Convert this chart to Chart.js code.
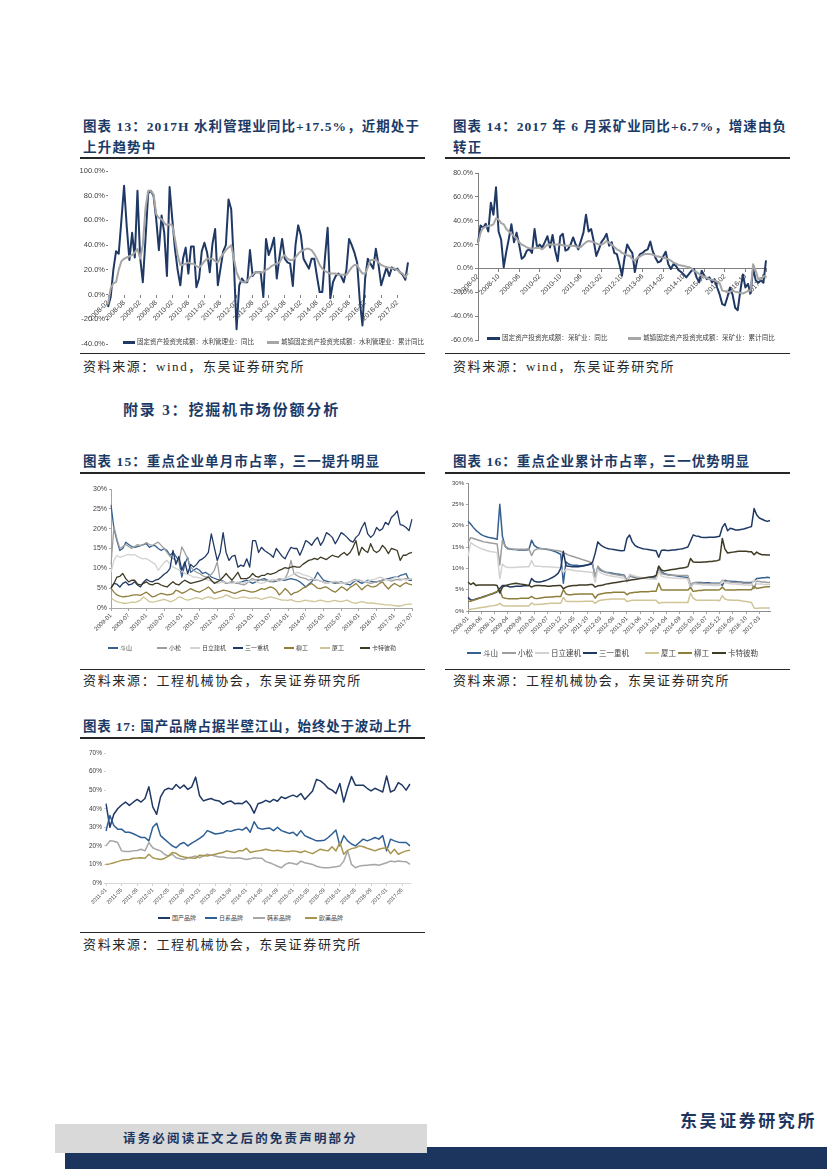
<!DOCTYPE html>
<html><head><meta charset="utf-8">
<script src="https://cdn.jsdelivr.net/npm/chart.js@4.4.0/dist/chart.umd.min.js"></script>
<style>
html,body{margin:0;padding:0;background:#fff;}
#page{position:relative;width:827px;height:1169px;overflow:hidden;background:#fff;}
.abs{position:absolute;white-space:nowrap;}
.title{font-family:"Liberation Serif","Noto Sans CJK SC",serif;font-weight:bold;font-size:13.5px;color:#1B3A66;letter-spacing:1.2px;line-height:18px;}
.src{font-family:"Liberation Serif","Noto Sans CJK SC",serif;font-size:13px;color:#262626;letter-spacing:1.7px;line-height:18px;}
.rule{position:absolute;background:#262626;}
canvas{position:absolute;}
.lgt{position:absolute;font-family:"Noto Sans CJK SC",sans-serif;color:#404040;white-space:nowrap;}
.lgl{position:absolute;}
</style></head>
<body><div id="page">

<div class="abs title fit" data-w="337" style="left:83px;top:118px;">图表 13：2017H 水利管理业同比+17.5%，近期处于</div>
<div class="abs title" style="left:83px;top:139px;">上升趋势中</div>
<div class="rule" style="left:80px;top:157px;width:345px;height:1.5px;"></div>
<div class="abs title fit" data-w="334" style="left:453px;top:118px;">图表 14：2017 年 6 月采矿业同比+6.7%，增速由负</div>
<div class="abs title" style="left:453px;top:139px;">转正</div>
<div class="rule" style="left:445px;top:157px;width:345px;height:1.5px;"></div>

<canvas id="c13" width="345" height="190" style="left:80px;top:160px;"></canvas>
<canvas id="c14" width="345" height="185" style="left:445px;top:165px;"></canvas>

<div class="rule" style="left:80px;top:353px;width:345px;height:1px;"></div>
<div class="rule" style="left:445px;top:353px;width:345px;height:1px;"></div>
<div class="abs src fit" data-w="222" style="left:83px;top:358px;">资料来源：wind，东吴证券研究所</div>
<div class="abs src fit" data-w="222" style="left:453px;top:358px;">资料来源：wind，东吴证券研究所</div>

<div class="abs title fit" data-w="217" style="left:123px;top:400px;font-size:15px;line-height:20px;">附录 3：挖掘机市场份额分析</div>

<div class="abs title fit" data-w="297" style="left:83px;top:453px;">图表 15：重点企业单月市占率，三一提升明显</div>
<div class="rule" style="left:80px;top:472px;width:345px;height:1.5px;"></div>
<div class="abs title fit" data-w="297" style="left:453px;top:453px;">图表 16：重点企业累计市占率，三一优势明显</div>
<div class="rule" style="left:445px;top:472px;width:345px;height:1.5px;"></div>

<canvas id="c15" width="345" height="160" style="left:80px;top:478px;"></canvas>
<canvas id="c16" width="345" height="170" style="left:445px;top:474px;"></canvas>

<div class="rule" style="left:80px;top:669px;width:345px;height:1px;"></div>
<div class="rule" style="left:445px;top:669px;width:345px;height:1px;"></div>
<div class="abs src fit" data-w="279" style="left:83px;top:672px;">资料来源：工程机械协会，东吴证券研究所</div>
<div class="abs src fit" data-w="277" style="left:453px;top:672px;">资料来源：工程机械协会，东吴证券研究所</div>

<div class="abs title fit" data-w="329" style="left:83px;top:718px;">图表 17: 国产品牌占据半壁江山，始终处于波动上升</div>
<div class="rule" style="left:80px;top:737px;width:345px;height:1.5px;"></div>
<canvas id="c17" width="345" height="170" style="left:80px;top:742px;"></canvas>
<div class="rule" style="left:80px;top:932px;width:345px;height:1px;"></div>
<div class="abs src fit" data-w="279" style="left:83px;top:936px;">资料来源：工程机械协会，东吴证券研究所</div>

<div class="abs title fit" data-w="137" style="left:680px;top:1110px;font-size:17px;line-height:24px;color:#1B355F;">东吴证券研究所</div>
<div style="position:absolute;left:65px;top:1147px;width:762px;height:22px;background:#1B355F;"></div>
<div style="position:absolute;left:55px;top:1124px;width:372px;height:29px;background:#D9D9D9;"></div>
<div class="abs title fit" data-w="235" style="left:123px;top:1130px;font-size:12.5px;color:#1B355F;">请务必阅读正文之后的免责声明部分</div>

</div>
<script>
// ---------- categories ----------
function monthLabels(y0, m0, n) { const out = []; let y = y0, m = m0; for (let i = 0; i < n; i++) { out.push(y + '-' + String(m).padStart(2, '0')); m++; if (m > 12) { m = 1; y++; } } return out; }
const cat13 = monthLabels(2008, 2, 113);
const cat14 = monthLabels(2008, 2, 113);
const cat15 = monthLabels(2009, 1, 103);
const cat16 = monthLabels(2008, 1, 115);
const cat17 = monthLabels(2011, 1, 79);

// ---------- chart 13: 水利管理业 ----------
const name13a = '固定资产投资完成额：水利管理业：同比';
const name13b = '城镇固定资产投资完成额：水利管理业：累计同比';
const water_yoy = [-10,-2,20,35,33,60,88,55,28,50, 30,84,30,10,45,82,84,80,61,36, 64,50,15,87,61,37,20,7.5,29,38, 17,39,39,6,13,35,42,34,18,41, 53,7.5,21,35,40,77,69,25,-28,7.5, 13,10,10,36,15,18,18,18,-2,45, 32,38,46,13,30,45,29,26,25,7, 40,56,48,29,25,21,29,29,15,2, 2,30,54,-3,10,15,17,15,10,20, 45,40,34,26,-5,-25,13,29,25,21, 37,24,7.5,15,22,15,22,20,21,18, 16,12,26];
const water_cum = [-8,5,9,10,20,27,29,30,31,32, 34,37,29,40,70,84,84,81,65,62, 61,58,56,57,56,45,32,24,24,25, 26,25,25,23,22,24,27,29,29,29, 27,26,30,33,36,38,40,29,18,13, 10,10,11,14,16,18,18,18,18,20, 21,23,24,25,26,30,32,29,28,28, 30,33,35,36,37,37,36,33,29,24, 21,19,18,17,17,17,16,16,16,16, 19,22,24,24,20,17,17,22,28,28, 28,26,24,23,22,22,21,21,20,18, 17,14,17.5];

// ---------- chart 14: 采矿业 ----------
const name14a = '固定资产投资完成额：采矿业：同比';
const name14b = '城镇固定资产投资完成额：采矿业：累计同比';
const mining_yoy = [21.7,36,34,37.5,31,55,45,68,31,24, 1,14,25,37,22,30,20,8,10,15, 16,13,33,17.5,20,17.5,22,27,17.5,28, 15,6,27,29,15,16,20,26,20,16, 23,30,45,31,33,23,10.5,16,22,25, 29,19,22,13,12,3.6,-6,9,20,16, 13,-3,8,12,13,15,16,22.5,14,9, 5,6,10,14,3.6,-0.5,3.6,2,-1.4,-3, -5,-7.5,-4.7,-2,-0.5,-7.5,-11.7,-2,-6,-9, -7.5,-11.7,-9,-16,-22,-30,-31,-24,-16,-22, -33,-35,-19,-5,-16,-13,-21,0,-10,-12, -10,-12,6.7];
const mining_cum = [21,30,34,35,35.5,36,37,42,41,38, 37,33,31,29,27,25,22,20,19,17.5, 17,16.7,17,17.5,17,16,18,20,20,20, 20,20,20,19.5,19,19,19,19,18.5,17.5, 18,20,22,23,22.5,22,21,20,20,21, 23,21.5,20,18,16,15,13,12,11,10.5, 8,6.4,9,10,11.4,12,12,12,11.5,10.5, 10,9.5,9,8.5,7.8,6.5,5,4,3,2.5, 2,1.5,1,0,-2,-3,-4.7,-6,-7,-8, -9,-9.5,-10,-11,-12.5,-18.6,-19,-20,-19.5,-18.6, -19.5,-20,-20.5,-21,-20,-19,-18.6,3.6,-2,-9, -9,-7,-6];

// ---------- chart 15: 单月市占率 ----------
const names15 = ['斗山', '小松', '日立建机', '三一重机', '柳工', '厦工', '卡特彼勒'];
const m_doosan = [26,20,17,14.5,15,16.6,16,15.5,15.3,15.5, 15.7,16,16.2,15.3,15.7,15.7,15,14.5,15,14.5, 13.3,14,13,12,7.8,11,12.8,9,9.5,10, 9.5,8.7,9,8.5,7.8,7.5,7.2,7,6.8,6.2, 6.4,6.6,6.4,6.2,6.5,6.8,7,6.6,6.2,6.6, 7,7.2,7.4,7,6.8,6.6,6.8,7,7,7, 7.2,7.4,7.2,7,6.6,6,5.3,6,6.6,7.5, 9,8,7,6.8,6.6,6.4,6.2,6.4,6.6,6.2, 6,5.8,6.4,7,6.6,6.2,6.6,7,6.8,6.6, 6.6,6.8,7,7.2,7.4,7.6,7.8,7.8,8.2,8.4, 8.7,7,7];
const m_komatsu = [11,20.5,17.5,15,15.5,16,15.5,15,15.5,16, 15.7,16,16.5,16,15.8,16.2,16.6,15.8,15,14, 13,12.5,12,11.5,15.4,14,12.4,10.3,9.5,9, 8.7,8.2,7.8,8,8.5,9.5,11.6,7,6.6,6.2, 6.4,6.6,6.4,6.2,6,5.8,6.2,7,7.4,7, 7.2,7,7,6.8,6.6,6.8,7,7.4,7.2,7.4, 9,12,8.7,8.2,7.8,7.6,7.4,7,7.2,7, 7,6.8,6.6,6.2,6.4,6.6,6.4,6.2,6.4,6.2, 6.4,6.6,7,7.2,7,6.8,6.6,6.4,6.2,6.4, 6.6,6.8,7,7.2,7,6.8,7,7.2,7,7.2, 7.4,7.2,7.4];
const m_hitachi = [9,12,13.3,12.8,13,13.3,13.5,13.3,13.5,13, 12.6,12.4,12.5,12,11.5,11,9.5,10.5,11.5,12, 11,10.3,10,9.5,9.5,8.7,8.5,8.2,7.8,7.8, 7.6,7.4,7.2,7,6.8,6.6,6.2,6.4,6.6,6.5, 6.3,6.2,6.4,6.6,6.5,6.3,6.6,6.8,7,6.8, 6.4,6.2,6.4,6.8,7,7.2,7,6.8,7,7.4, 7.8,8.2,8.6,9,8.8,8.4,8.2,8,7.6,7.2, 7,6.8,6.4,6.2,6.4,6.6,6.8,6.6,6.4,6.2, 6.4,6.6,6.8,7,7.2,6.8,6.6,6.8,7,7.2, 7.4,7.8,7.6,7.2,7,7.2,7.6,7.8,7.4,7.2, 7,7.2,7.4];
const m_sany = [5,6.2,6,5.3,6.2,6.6,5.8,6,6.6,5.8, 5.3,6.5,7.2,6.8,6.6,7,7.2,7.8,8.5,9, 10,14.5,11,13,9.5,11.6,8.7,11,10.3,11, 12,12.4,13,14,18.7,15.3,12,14,19,14, 12,13,13.3,10.3,10.8,10.5,12.4,10.3,17,17, 14,15.3,14.5,14,13.5,12.8,15,14,13,12.4, 14,15.3,15,15,13.3,15,17,16.5,15.8,17, 17.8,15.8,17,19,18.5,17.8,16.2,17.5,19,18.5, 17.8,17,16.6,17.8,18.5,20.3,21.6,18.7,17.8,18.5, 20.3,19.5,20,21.6,21,22.8,23.5,24.5,21,20.8, 20.3,19.5,22.4];
const m_liugong = [5,4,3.3,3,2.8,2.9,3,3.2,3.3,3.3, 3.2,3.6,4,3.4,2.8,3,3.4,3.7,3.5,3.3, 3.4,3.6,4.5,4.2,3.7,4,4.4,4.9,4.5,4.2, 4,4.4,4.8,5.3,4.6,3.7,4,4.2,4.5,4.4, 4.2,3.9,3.7,4,4.3,4.5,4.3,4.1,4,4.2, 4.5,4.9,4.7,5,5.3,5.1,4.5,3.3,4,4.9, 4.2,3.3,3.8,4,4.4,5,5.3,5.8,6.2,5.6, 5,4.9,5.2,5.3,4.8,4.3,4,4.6,5.3,5, 4.4,5.2,5.6,6.2,5.4,4.6,5.3,5.8,5.4,5.3, 5.6,6.2,6.6,5.6,4.8,5.6,6.2,5.8,5.4,6, 6.4,6,5.8];
const m_xiagong = [2.5,2,1.6,1.4,1.2,1.2,1.3,1.5,1.4,1.6, 2,2.8,2.2,1.6,1.5,1.6,1.8,2,2.2,1.9, 1.6,1.8,2.2,2.8,2.6,2.2,2,2.2,2.4,2.6, 2.4,2.2,2.6,2.8,2.6,2.3,2.4,2.6,2.8,3.3, 3,2.6,2.4,2.5,2.7,2.8,2.6,2.4,2.5,2.6, 2.4,2.2,2.4,2.6,2.8,2.6,2.4,2.2,2,2, 1.9,2.1,1.8,1.6,1.6,1.8,2,1.8,1.7,1.6, 1.8,2,1.8,1.6,1.6,1.8,1.9,1.7,1.6,1.8, 2,1.6,1.3,1.2,1.4,1.6,1.4,1.2,1.3,1.2, 1.1,1,0.9,0.8,0.8,0.7,0.6,0.5,0.5,0.7, 0.9,1,1];
const m_cat = [5,6.2,7.8,8,8.7,7.4,6.6,7,7,6, 5.8,6.2,6.6,6,5.8,6.2,6.2,5.8,5.5,5.3, 6,6.6,6,5.8,6.5,7,6.6,6.2,6.4,6.6, 6.8,7,7.4,7.8,7,6.2,6.6,7,7.8,8.7, 7.8,7,8,9,7.4,7.4,7.4,7.8,8.7,8, 7.8,8.2,8.2,8.7,8.5,8.7,9,9.5,9.8,10.2, 10,10.3,10.5,10.3,10.3,11,11.5,12,12.2,12.5, 12.2,12.8,12.5,12.2,12.8,13.3,13,12.8,13.5,14, 13.3,14,15.3,17,13.3,15.3,14.5,14,16.2,14.5, 14,14.5,15.8,15,13.7,15,14.8,14.5,12,13.3, 13.3,13.8,14];

// ---------- chart 16: 累计市占率 ----------
const names16 = ['斗山', '小松', '日立建机', '三一重机', '厦工', '柳工', '卡特彼勒'];
const c_doosan = [21.0,20.4,19.6,18.9,18.4,17.9,17.6,17.4,17.2,17.1,17.0,16.8, 25.0,17.5,15.2,14.6,14.5,14.4,14.4,14.3,14.3,14.3,14.3,14.4, 16.6,15.4,14.9,14.7,14.6,14.5,14.4,14.3,14.1,13.9,13.6,13.3, 6.5,11.5,11.0,10.8,10.7,10.7,10.6,10.6,10.7,10.8,10.9,11.0, 8.0,10.0,9.6,9.3,9.1,9.0,8.9,8.8,8.7,8.6,8.5,8.4, 7.0,8.2,8.0,7.9,7.8,7.8,7.8,7.8,7.8,7.9,7.9,8.0, 10.5,9.2,8.8,8.6,8.5,8.4,8.3,8.2,8.1,8.0,7.9,7.8, 5.5,6.5,6.7,6.7,6.7,6.6,6.6,6.6,6.5,6.5,6.5,6.5, 6.0,7.2,7.0,7.0,6.9,6.9,6.8,6.8,6.7,6.7,6.7,6.7, 7.0,7.6,7.7,7.8,7.8,7.9,7.8];
const c_komatsu = [16.0,17.2,17.0,16.8,16.6,16.4,16.2,16.1,16.0,15.9,15.8,15.7, 10.8,16.6,15.2,14.8,14.6,14.5,14.5,14.5,14.5,14.5,14.5,14.6, 13.0,14.2,14.5,14.6,14.6,14.6,14.5,14.4,14.3,14.2,14.1,14.0, 13.6,13.4,13.1,12.9,12.7,12.5,12.3,12.1,11.9,11.7,11.5,11.3, 8.0,10.5,9.8,9.4,9.1,8.9,8.7,8.6,8.5,8.4,8.3,8.2, 7.2,8.3,8.1,8.0,7.9,7.8,7.7,7.7,7.6,7.6,7.6,7.6, 10.0,8.8,8.6,8.5,8.4,8.4,8.4,8.3,8.3,8.3,8.3,8.3, 6.2,6.6,6.6,6.5,6.5,6.5,6.4,6.4,6.4,6.4,6.4,6.4, 7.2,7.0,6.9,6.8,6.7,6.7,6.6,6.6,6.5,6.5,6.5,6.5, 5.2,7.0,6.9,6.8,6.8,6.7,6.7];
const c_hitachi = [12.8,16.0,15.6,15.2,14.9,14.6,14.4,14.2,14.0,13.9,13.8,13.7, 7.6,11.0,10.4,10.2,10.2,10.2,10.2,10.3,10.3,10.3,10.4,10.4, 11.8,10.6,10.5,10.5,10.4,10.4,10.4,10.3,10.3,10.2,10.2,10.2, 9.0,9.8,9.7,9.6,9.5,9.4,9.4,9.3,9.2,9.2,9.1,9.0, 6.7,9.8,9.0,8.7,8.5,8.3,8.2,8.1,8.0,7.9,7.8,7.7, 6.8,8.6,8.4,8.2,8.0,7.9,7.8,7.7,7.6,7.5,7.5,7.4, 9.2,8.2,8.0,7.9,7.8,7.8,7.7,7.7,7.6,7.6,7.6,7.5, 5.5,6.3,6.3,6.2,6.2,6.1,6.1,6.1,6.0,6.0,6.0,6.0, 7.0,6.6,6.5,6.4,6.3,6.3,6.2,6.2,6.1,6.1,6.1,6.0, 7.4,6.4,6.3,6.3,6.2,6.2,6.2];
const c_sany = [3.2,2.6,2.6,2.8,3.0,3.2,3.4,3.6,3.8,4.0,4.2,4.5, 5.3,6.0,6.0,5.8,5.6,5.7,5.8,5.8,5.8,5.9,5.9,6.0, 7.6,7.0,6.8,6.8,6.9,7.1,7.3,7.6,7.9,8.3,8.8,10.0, 14.0,10.6,10.5,10.4,10.4,10.4,10.4,10.5,10.6,10.8,11.0,11.4, 13.5,16.2,15.5,15.1,14.8,14.6,14.5,14.4,14.3,14.2,14.1,14.2, 17.0,17.8,16.2,15.4,15.0,14.8,14.6,14.5,14.4,14.3,14.2,14.1, 12.6,14.2,14.3,14.2,14.2,14.3,14.3,14.4,14.5,14.6,14.8,15.0, 16.4,17.8,17.6,17.5,17.3,17.2,17.2,17.3,17.3,17.3,17.4,17.5, 19.6,20.5,18.8,19.4,19.2,19.0,19.0,19.1,19.2,19.4,19.6,19.8, 24.0,22.5,21.8,21.5,21.2,21.0,21.2];
const c_xiagong = [0.3,0.4,0.5,0.6,0.7,0.8,0.9,1.0,1.1,1.2,1.3,1.4, 1.8,1.3,1.2,1.2,1.2,1.2,1.2,1.2,1.2,1.2,1.2,1.2, 1.9,1.5,1.5,1.6,1.6,1.7,1.7,1.8,1.8,1.8,1.8,1.8, 3.2,2.3,2.2,2.2,2.2,2.2,2.2,2.2,2.3,2.3,2.3,2.3, 1.8,2.3,2.5,2.6,2.7,2.7,2.8,2.8,2.8,2.8,2.8,2.8, 2.2,2.4,2.5,2.5,2.5,2.5,2.5,2.5,2.5,2.5,2.5,2.5, 1.8,2.0,2.0,2.0,2.0,2.0,2.0,2.0,2.0,2.0,2.0,2.0, 4.2,3.0,2.6,2.5,2.5,2.5,2.5,2.5,2.5,2.5,2.5,2.4, 3.6,2.8,2.6,2.6,2.5,2.5,2.5,2.4,2.3,2.2,2.1,2.0, 0.7,0.6,0.7,0.7,0.7,0.7,0.7];
const c_liugong = [2.2,2.3,2.5,2.7,2.9,3.1,3.3,3.5,3.8,4.0,4.3,4.6, 5.0,3.2,3.0,2.9,2.9,2.9,2.9,2.9,3.0,3.0,3.0,3.0, 3.4,3.0,2.9,3.0,3.1,3.2,3.2,3.3,3.3,3.4,3.4,3.4, 5.0,4.0,3.8,3.8,3.9,3.9,4.0,4.0,4.0,4.0,4.0,4.0, 3.0,3.8,4.0,4.1,4.2,4.3,4.3,4.4,4.4,4.4,4.4,4.4, 3.8,4.2,4.3,4.4,4.4,4.5,4.5,4.5,4.5,4.6,4.6,4.6, 6.5,5.0,4.9,4.9,4.9,4.9,4.9,4.9,4.9,4.9,4.9,4.9, 5.5,4.6,4.7,4.8,4.8,4.9,4.9,4.9,4.9,4.9,4.9,5.0, 5.6,5.0,4.9,4.9,4.9,4.9,5.0,5.0,5.0,5.0,5.0,5.0, 5.8,5.3,5.4,5.5,5.6,5.7,5.7];
const c_cat = [6.8,6.2,6.6,6.0,6.1,6.1,6.1,6.1,6.1,6.1,6.1,6.0, 4.2,5.6,5.9,6.1,6.3,6.4,6.5,6.4,6.3,6.2,6.1,6.0, 5.6,5.9,6.0,6.0,5.9,5.9,5.8,5.8,5.9,5.9,6.0,6.0, 5.2,5.6,5.8,5.9,6.0,6.0,6.1,6.1,6.1,6.1,6.2,6.2, 5.6,5.9,6.0,6.1,6.3,6.4,6.5,6.6,6.7,6.8,6.9,7.0, 7.1,7.2,7.3,7.4,7.5,7.6,7.7,7.8,7.9,8.0,8.1,8.3, 10.5,9.6,9.4,9.5,9.6,9.7,9.8,9.9,10.0,10.1,10.2,10.4, 12.3,11.5,11.4,11.4,11.4,11.5,11.5,11.6,11.6,11.7,11.8,12.0, 17.0,14.5,13.6,13.7,13.8,13.9,14.0,14.0,14.0,14.0,13.9,13.9, 13.2,13.8,13.4,13.2,13.2,13.1,13.1];

// ---------- chart 17: 品牌份额 ----------
const names17 = ['国产品牌', '日系品牌', '韩系品牌', '欧美品牌'];
const b_domestic = [42.7,30,37,40,42,43.6,41.8,43.5,45,43.6, 45.5,51.8,41,37,46.4,50,51,50.4,53,51, 52.7,50.4,51.8,57,47,44.2,45,45.5,44.5,44.2, 42.4,43.6,44.2,42.7,43,42.7,44.2,41.8,37.6,42.7, 43.3,44.5,43.6,45,44,46.4,45.5,46.5,47.3,46.4, 48.2,45,47.3,49.6,55.8,55,53.3,51,50,48.2, 53.6,43.6,51,57.3,52.7,52.7,52.7,51,49.6,51, 50,49,57.6,49,50,54,52.7,50,53.3];
const b_japan = [28,36.4,31,29,29,27.3,27.3,26.5,25.5,24.5, 24.5,22.7,30,32.2,25.5,23.6,21.8,20,19,21, 21.8,20,21.5,22.7,24,25.5,28.2,27.3,26.4,26.7, 27,28.2,27.8,28.5,29,28.5,30,27.3,33,29.6, 29,29.3,29.6,28.2,30,28.2,27.5,26.7,27.3,25.5, 28.2,25.5,24.5,23.6,22.7,22.8,23,24.5,26.4,28.5, 20,25.5,22.7,21,20,21.8,23.6,22.7,23.5,24.5, 23.6,25.5,17.3,23.6,22.7,22,21.8,21.8,20];
const b_korea = [20,22.7,22.5,21.8,17.3,17,17,17.3,17.5,18.2, 17.3,21.8,19,18,17.3,15.5,14.5,15.5,13.6,13, 12.7,13.6,14,14.5,13.6,14.5,15.5,15,14.5,14, 14,13.6,13.5,13.3,13.6,13.2,12.7,13,13.6,13.3, 13.3,11.5,10.9,10,9,8.2,10,10.9,10.5,10, 11.8,10.9,10.5,10,9,8.5,8.2,8.2,8.5,8.8, 9.1,11.8,17.3,10,8.2,9.1,9.4,9.6,9.8,10, 9.6,10.2,10.9,11.8,11.5,11.8,11.6,11.5,10];
const b_euus = [10,10.3,10.9,11.5,12.2,12.5,12.7,13.3,13.4,13.6, 13.3,15.5,13.6,13,12.7,13.2,14.5,16.4,16,14.5, 14,13.6,13.5,13.3,15,14.8,14.5,15,15.5,16, 16.4,17.3,16.8,16.4,17.3,17.3,18.7,16.4,17,17.3, 17.6,18.2,17.6,17.3,17.6,17.3,16.9,17,17.3,17, 16.4,17.3,16.5,15.8,17,18.2,17.6,17.3,19.5,17.3, 21.8,15.5,17.6,18.5,19,20,19.5,18.7,18,17.3, 18.2,18.7,19,15.8,18.2,15.5,16.5,17.3,17.6];

// ---------- colours ----------
const NAVY = '#1F3864', GREY = '#A6A6A6';
const col15 = ['#35608F', '#9E9E9E', '#D2D2D2', '#1F3864', '#8E7E3C', '#CFC597', '#3F3B24'];
const col16 = ['#35608F', '#9E9E9E', '#D2D2D2', '#1F3864', '#CFC597', '#8E7E3C', '#3F3B24'];
const col17 = ['#1F3864', '#2E5E94', '#A6A6A6', '#A8964E'];

function drawChart(id, c) {
  const datasets = c.series.map((s, i) => ({
    label: s.name, data: s.data, borderColor: s.color, backgroundColor: s.color,
    borderWidth: c.lw, pointRadius: 0, tension: 0, fill: false, order: -i,
    borderJoinStyle: 'round'
  }));
  return new Chart(document.getElementById(id), {
    type: 'line',
    data: { labels: c.labels, datasets },
    options: {
      responsive: false, animation: false,
      layout: { padding: { left: 0, top: c.pad[0], right: c.pad[1], bottom: c.pad[2] } },
      plugins: { legend: { display: false }, tooltip: { enabled: false } },
      scales: {
        x: {
          type: 'category', offset: false,
          position: c.xAtZero ? { y: 0 } : 'bottom',
          afterBuildTicks: s => { s.ticks = s.ticks.filter(t => t.value % c.every === 0); },
          afterFit: s => { s.height = c.xh; s.paddingLeft = 0; s.paddingRight = 0; s.paddingTop = 0; s.paddingBottom = 0; },
          ticks: { autoSkip: false, minRotation: 45, maxRotation: 45, padding: 1, color: '#404040',
                   font: { family: 'Liberation Sans', size: c.xFont } },
          grid: { display: true, drawOnChartArea: false, drawTicks: true, tickLength: 3, color: c.tickCol },
          border: { display: !!c.xBorder, color: c.xBorder || '#000', width: 1 }
        },
        y: {
          min: c.ymin, max: c.ymax,
          afterFit: s => { s.width = c.yw; s.paddingTop = 0; s.paddingBottom = 0; },
          ticks: { stepSize: c.step, padding: c.yPad, color: '#404040', callback: c.fmt,
                   font: { family: 'Liberation Sans', size: c.yFont } },
          grid: { display: true, drawOnChartArea: false, drawTicks: true, tickLength: c.yTick, color: c.tickCol },
          border: { display: !!c.yBorder, color: c.yBorder || '#000', width: 1 }
        }
      }
    }
  });
}

const pct1 = v => v.toFixed(1) + '%';
const pct0 = v => v.toFixed(0) + '%';

drawChart('c13', { labels: cat13, series: [{name: name13a, data: water_yoy, color: NAVY}, {name: name13b, data: water_cum, color: GREY}],
  lw: 2, pad: [11, 17, 6], xAtZero: true, every: 6, xh: 0, xFont: 7, yFont: 7.5, yw: 28, yPad: 1, ymin: -40, ymax: 100, step: 20,
  fmt: pct1, tickCol: '#808080', xBorder: null, yBorder: null, yTick: 2 });
drawChart('c14', { labels: cat14, series: [{name: name14a, data: mining_yoy, color: NAVY}, {name: name14b, data: mining_cum, color: GREY}],
  lw: 2, pad: [8, 24, 10], xAtZero: true, every: 8, xh: 0, xFont: 7, yFont: 7, yw: 33, yPad: 2, ymin: -60, ymax: 80, step: 20,
  fmt: pct1, tickCol: '#808080', xBorder: '#7F7F7F', yBorder: '#7F7F7F', yTick: 3 });
drawChart('c15', { labels: cat15, series: [m_doosan, m_komatsu, m_hitachi, m_sany, m_liugong, m_xiagong, m_cat].map((d, i) => ({name: names15[i], data: d, color: col15[i]})),
  lw: 1.3, pad: [11, 13, 0], xAtZero: false, every: 6, xh: 30, xFont: 6, yFont: 7, yw: 31, yPad: 2, ymin: 0, ymax: 30, step: 5,
  fmt: pct0, tickCol: '#A6A6A6', xBorder: '#A6A6A6', yBorder: '#A6A6A6', yTick: 2 });
drawChart('c16', { labels: cat16, series: [c_doosan, c_komatsu, c_hitachi, c_sany, c_xiagong, c_liugong, c_cat].map((d, i) => ({name: names16[i], data: d, color: col16[i]})),
  lw: 1.5, pad: [9, 20, 0], xAtZero: false, every: 5, xh: 33, xFont: 6, yFont: 6, yw: 23, yPad: 2, ymin: 0, ymax: 30, step: 5,
  fmt: pct0, tickCol: '#A6A6A6', xBorder: '#8C8C8C', yBorder: '#8C8C8C', yTick: 2 });
drawChart('c17', { labels: cat17, series: [b_domestic, b_japan, b_korea, b_euus].map((d, i) => ({name: names17[i], data: d, color: col17[i]})),
  lw: 1.5, pad: [11, 15, 0], xAtZero: false, every: 4, xh: 29, xFont: 5.5, yFont: 6.5, yw: 26, yPad: 2, ymin: 0, ymax: 70, step: 10,
  fmt: pct0, tickCol: '#D0D0D0', xBorder: '#D9D9D9', yBorder: null, yTick: 2 });

// ---------- HTML legends ----------
function legend(items, y, font, len, lw) {
  const page = document.getElementById('page');
  items.forEach(it => {
    const l = document.createElement('div');
    l.className = 'lgl';
    l.style.cssText = `left:${it.x}px;top:${y - lw / 2}px;width:${len}px;height:${lw}px;background:${it.color};`;
    page.appendChild(l);
    const t = document.createElement('div');
    t.className = 'lgt';
    t.textContent = it.name;
    t.style.cssText += `left:${it.x + len + 2}px;top:${y - font * 0.7}px;font-size:${font}px;line-height:${font * 1.4}px;`;
    page.appendChild(t);
  });
}
legend([{x: 123, name: name13a, color: NAVY}, {x: 267, name: name13b, color: GREY}], 342, 6.5, 12, 3);
legend([{x: 487, name: name14a, color: NAVY}, {x: 628, name: name14b, color: GREY}], 338, 6.6, 13, 3);
legend([108, 157, 190, 233, 284, 320, 360].map((x, i) => ({x, name: names15[i], color: col15[i]})), 648, 6, 10, 1.5);
legend([467, 502, 535, 583, 645, 678, 712].map((x, i) => ({x, name: names16[i], color: col16[i]})), 653, 7.5, 14, 1.5);
legend([158, 205, 253, 305].map((x, i) => ({x, name: names17[i], color: col17[i]})), 918, 6, 12, 1.5);

// ---------- fit text widths ----------
document.querySelectorAll('.fit').forEach(el => {
  const target = parseFloat(el.dataset.w);
  const n = el.textContent.length;
  const w = el.getBoundingClientRect().width;
  const cur = parseFloat(getComputedStyle(el).letterSpacing) || 0;
  el.style.letterSpacing = (cur + (target - w) / n) + 'px';
});
</script>
</body></html>
